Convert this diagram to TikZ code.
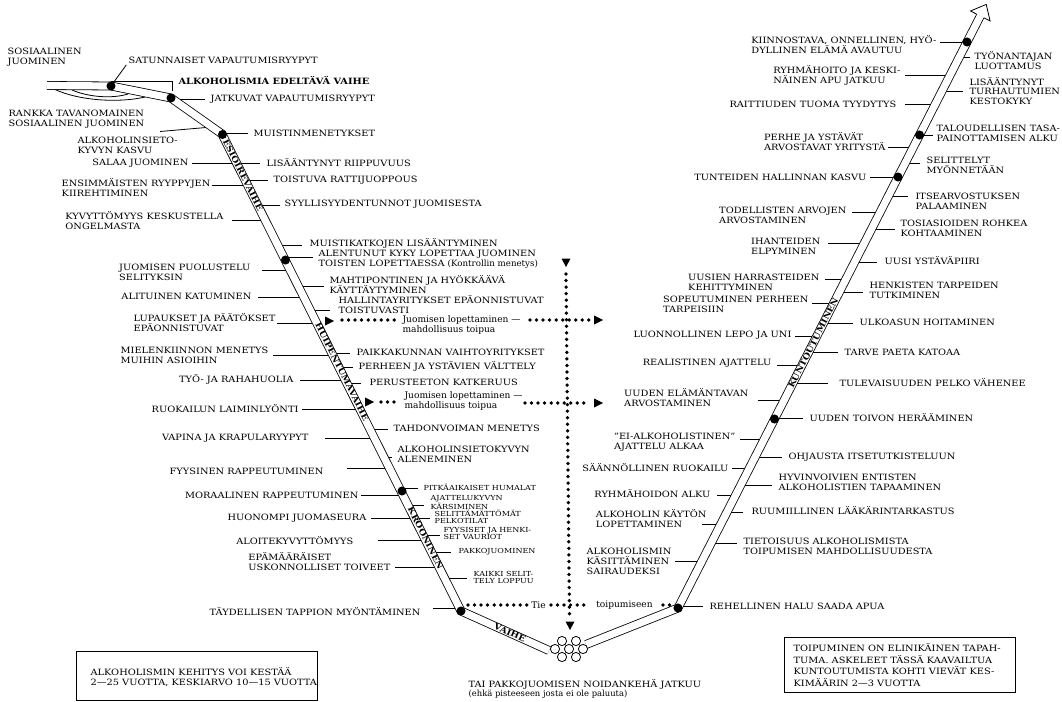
\documentclass[tikz,border=0pt]{standalone}
\usepackage{fontspec}
\setmainfont{DejaVu Serif}[FakeStretch=1.13]
\newfontfamily\smallfam{DejaVu Serif}[FakeStretch=1.16]
\newfontfamily\lowfam{DejaVu Serif}
\tikzset{
  lab/.style={font=\fontsize{6.5}{7.4}\selectfont, inner sep=1pt, align=left},
  slab/.style={font=\smallfam\fontsize{5.2}{5.5}\selectfont, inner sep=1pt, align=left},
  boldlab/.style={font=\bfseries\fontsize{6.5}{7.4}\selectfont, inner sep=1pt},
  lowtxt/.style={font=\lowfam\fontsize{6.8}{7.6}\selectfont, inner sep=1pt, align=left},
  conn/.style={line width=0.6pt},
  tube/.style={line width=0.6pt, double=white, double distance=5.4pt},
  blob/.style={circle, fill, inner sep=0pt, minimum size=6.8pt},
  dotln/.style={line width=2.8pt, line cap=round, dash pattern=on 0pt off 4.9pt},
  tubetxt/.style={font=\bfseries\fontsize{6.1}{6}\selectfont, inner sep=0pt},
}
\newcommand\tubeA[1]{222+(#1-134)*0.504}
\newcommand\tubeB[1]{678+(608-#1)*0.5106}
% label left of a tube: style, tube, name, x east, y centre, y line, gap, text
\newcommand\LabL[8]{%
  \node[#1, anchor=east] (#3) at (#4,#5) {#8};
  \pgfmathsetmacro\tx{\csname tube#2\endcsname{#6}}
  \coordinate (#3t) at (\tx,#6);
  \draw[conn] ([xshift=#7*0.75pt]#3.east |- #3t) -- (#3t);
}
% label right of a tube
\newcommand\LabR[8]{%
  \node[#1, anchor=west] (#3) at (#4,#5) {#8};
  \pgfmathsetmacro\tx{\csname tube#2\endcsname{#6}}
  \coordinate (#3t) at (\tx,#6);
  \draw[conn] (#3t) -- ([xshift=-#7*0.75pt]#3.west |- #3t);
}
\begin{document}
\begin{tikzpicture}[x=0.75pt,y=-0.75pt]
\useasboundingbox (0,0) rectangle (1062,702);

% dot positions
\coordinate (d1) at (111,86);
\coordinate (d2) at (171,98);
\coordinate (d3) at (222.5,134.5);
\coordinate (d4) at (285.5,260);
\coordinate (d5) at (402,491);
\coordinate (d6) at (461,611);
\coordinate (e1) at (678,608);
\coordinate (e2) at (774.5,419);
\coordinate (e3) at (898,177);
\coordinate (e4) at (919.5,135);
\coordinate (e5) at (967,42);

% top left labels
\node[lab, anchor=west] (sos) at (6,57) {SOSIAALINEN\\JUOMINEN};
\node[lab, anchor=west] (satun) at (127,60) {SATUNNAISET VAPAUTUMISRYYPYT};
\node[boldlab, anchor=west] (edel) at (177,80) {ALKOHOLISMIA EDELTÄVÄ VAIHE};
\node[lab, anchor=west] (jatk) at (209,99) {JATKUVAT VAPAUTUMISRYYPYT};
\node[lab, anchor=west] (rankka) at (7,119.5) {RANKKA TAVANOMAINEN\\SOSIAALINEN JUOMINEN};
\node[lab, anchor=west] (alksi) at (76,145) {ALKOHOLINSIETO-\\KYVYN KASVU};
\draw[conn] ([xshift=-0.5pt]satun.south west) -- (d1);
\coordinate (jatkt) at (172,99);
\draw[conn] (jatkt) -- ([xshift=-3pt]jatk.west);
\coordinate (alksiA) at (160,131.5);
\coordinate (alksiB) at (212,127);
\draw[conn] (alksiA) -- (alksiB);
\draw[conn] (111,81.5) -- (172,81.5) -- (172,91);
\draw[conn] (55,89.5) .. controls (80,101) and (120,103) .. (145,97);
\draw[conn] (72,90) .. controls (88,97) and (112,99) .. (128,94);

% left tube, labels on the left
\LabL{lab}{A}{salaa}{190}{163}{163}{1.5}{SALAA JUOMINEN}
\LabL{lab}{A}{ensim}{212}{188}{185}{0}{ENSIMMÄISTEN RYYPPYJEN\\KIIREHTIMINEN}
\LabL{lab}{A}{kyvyt}{225}{220.5}{220}{7}{KYVYTTÖMYYS KESKUSTELLA\\ONGELMASTA}
\LabL{lab}{A}{puol}{252}{272}{270}{10}{JUOMISEN PUOLUSTELU\\SELITYKSIN}
\LabL{lab}{A}{alit}{253}{296}{297}{5}{ALITUINEN KATUMINEN}
\LabL{lab}{A}{lupa}{277}{323}{323}{0}{LUPAUKSET JA PÄÄTÖKSET\\EPÄONNISTUVAT}
\LabL{lab}{A}{miel}{270}{355}{355}{3}{MIELENKIINNON MENETYS\\MUIHIN ASIOIHIN}
\LabL{lab}{A}{tyo}{295}{379}{380}{5}{TYÖ- JA RAHAHUOLIA}
\LabL{lab}{A}{ruok}{300}{409}{409}{2}{RUOKAILUN LAIMINLYÖNTI}
\LabL{lab}{A}{vapina}{310}{438}{438}{15}{VAPINA JA KRAPULARYYPYT}
\LabL{lab}{A}{fyys}{325}{471}{468}{22}{FYYSINEN RAPPEUTUMINEN}
\LabL{lab}{A}{moraal}{360}{495}{495}{1}{MORAALINEN RAPPEUTUMINEN}
\LabL{lab}{A}{huon}{368}{518}{518}{3}{HUONOMPI JUOMASEURA}
\LabL{lab}{A}{aloit}{355}{541}{540}{23}{ALOITEKYVYTTÖMYYS}
\LabL{lab}{A}{epam}{392}{562}{567}{3}{EPÄMÄÄRÄISET\\USKONNOLLISET TOIVEET}
\LabL{lab}{A}{tayd}{422}{612}{608}{11}{TÄYDELLISEN TAPPION MYÖNTÄMINEN}

% left tube, labels on the right
\LabR{lab}{A}{muist}{252}{133}{133}{4}{MUISTINMENETYKSET}
\LabR{lab}{A}{lisaa}{265}{163}{163}{5}{LISÄÄNTYNYT RIIPPUVUUS}
\LabR{lab}{A}{toist}{272}{180}{180}{4}{TOISTUVA RATTIJUOPPOUS}
\LabR{lab}{A}{syyll}{283}{204}{205}{3}{SYYLLISYYDENTUNNOT JUOMISESTA}
\LabR{lab}{A}{muistk}{308}{243.5}{245}{6}{MUISTIKATKOJEN LISÄÄNTYMINEN}
\LabR{lab}{A}{alent}{317}{259.5}{257}{4}{ALENTUNUT KYKY LOPETTAA JUOMINEN\\TOISTEN LOPETTAESSA {\lowfam (Kontrollin menetys)}}
\LabR{lab}{A}{mahti}{328}{285}{286}{4}{MAHTIPONTINEN JA HYÖKKÄÄVÄ\\KÄYTTÄYTYMINEN}
\LabR{lab}{A}{hallin}{337}{305}{310}{7}{HALLINTAYRITYKSET EPÄONNISTUVAT\\TOISTUVASTI}
\LabR{lab}{A}{paikk}{355}{352}{353}{5}{PAIKKAKUNNAN VAIHTOYRITYKSET}
\LabR{lab}{A}{perhv}{357}{366}{367}{4}{PERHEEN JA YSTÄVIEN VÄLTTELY}
\LabR{lab}{A}{perus}{368}{382}{383}{7}{PERUSTEETON KATKERUUS}
\LabR{lab}{A}{tahd}{392}{428}{429}{4}{TAHDONVOIMAN MENETYS}
\LabR{lab}{A}{alkosi}{396}{454}{457}{4}{ALKOHOLINSIETOKYVYN\\ALENEMINEN}
\LabR{slab}{A}{pitk}{422}{487}{488}{4}{PITKÄAIKAISET HUMALAT}
\LabR{slab}{A}{ajat}{429}{502.5}{505}{5}{AJATTELUKYVYN\\KÄRSIMINEN}
\LabR{slab}{A}{selt}{433}{517}{518}{3}{SELITTÄMÄTTÖMÄT\\PELKOTILAT}
\LabR{slab}{A}{fyyh}{442}{533.5}{535}{2}{FYYSISET JA HENKI-\\SET VAURIOT}
\LabR{slab}{A}{pakko}{457}{552}{552}{6}{PAKKOJUOMINEN}
\LabR{slab}{A}{kaikki}{472}{577.5}{578}{5}{KAIKKI SELIT-\\TELY LOPPUU}

% right tube, labels on the left
\LabL{lab}{B}{kiinn}{938}{45}{42}{2}{KIINNOSTAVA, ONNELLINEN, HYÖ-\\DYLLINEN ELÄMÄ AVAUTUU}
\LabL{lab}{B}{ryhmh}{902}{75}{75}{3}{RYHMÄHOITO JA KESKI-\\NÄINEN APU JATKUU}
\LabL{lab}{B}{raitt}{898}{104}{104}{7}{RAITTIUDEN TUOMA TYYDYTYS}
\LabL{lab}{B}{perhe}{887}{142}{147}{1}{PERHE JA YSTÄVÄT\\ARVOSTAVAT YRITYSTÄ}
\LabL{lab}{B}{tunt}{868}{177}{177}{2}{TUNTEIDEN HALLINNAN KASVU}
\LabL{lab}{B}{todel}{848}{215}{212}{4}{TODELLISTEN ARVOJEN\\ARVOSTAMINEN}
\LabL{lab}{B}{ihant}{822}{246.5}{243}{6}{IHANTEIDEN\\ELPYMINEN}
\LabL{lab}{B}{uusih}{821}{282}{279}{4}{UUSIEN HARRASTEIDEN\\KEHITTYMINEN}
\LabL{lab}{B}{sopeu}{810}{304.5}{303}{2}{SOPEUTUMINEN PERHEEN\\TARPEISIIN}
\LabL{lab}{B}{luonn}{793}{335}{336}{2}{LUONNOLLINEN LEPO JA UNI}
\LabL{lab}{B}{realis}{773}{363}{365}{4}{REALISTINEN AJATTELU}
\LabL{lab}{B}{uudenel}{750}{397.5}{400}{8}{UUDEN ELÄMÄNTAVAN\\ARVOSTAMINEN}
\LabL{lab}{B}{eialk}{737}{442.5}{439}{3}{"EI-ALKOHOLISTINEN"\\AJATTELU ALKAA}
\LabL{lab}{B}{saann}{730}{468}{468}{2}{SÄÄNNÖLLINEN RUOKAILU}
\LabL{lab}{B}{ryhma}{712}{494}{495}{5}{RYHMÄHOIDON ALKU}
\LabL{lab}{B}{alklop}{708}{519}{524}{-6}{ALKOHOLIN KÄYTÖN\\LOPETTAMINEN}
\LabL{lab}{B}{alkkas}{673}{561}{561}{2}{ALKOHOLISMIN\\KÄSITTÄMINEN\\SAIRAUDEKSI}

% right tube, labels on the right
\LabR{lab}{B}{tyon}{973}{60.5}{57}{3}{TYÖNANTAJAN\\LUOTTAMUS}
\LabR{lab}{B}{lisaat}{968}{91}{91}{5}{LISÄÄNTYNYT\\TURHAUTUMIEN\\KESTOKYKY}
\LabR{lab}{B}{talou}{935}{133}{135}{2}{TALOUDELLISEN TASA-\\PAINOTTAMISEN ALKU}
\LabR{lab}{B}{selitm}{925}{165}{163}{5}{SELITTELYT\\MYÖNNETÄÄN}
\LabR{lab}{B}{itsea}{914}{201}{196}{6}{ITSEARVOSTUKSEN\\PALAAMINEN}
\LabR{lab}{B}{tosia}{899}{228.5}{229}{4}{TOSIASIOIDEN ROHKEA\\KOHTAAMINEN}
\LabR{lab}{B}{uusiy}{883}{261}{262}{6}{UUSI YSTÄVÄPIIRI}
\LabR{lab}{B}{henk}{868}{290.5}{292}{5}{HENKISTEN TARPEIDEN\\TUTKIMINEN}
\LabR{lab}{B}{ulko}{858}{322}{323}{5}{ULKOASUN HOITAMINEN}
\LabR{lab}{B}{tarve}{843}{352}{352}{5}{TARVE PAETA KATOAA}
\LabR{lab}{B}{tulev}{838}{383}{383}{10}{TULEVAISUUDEN PELKO VÄHENEE}
\LabR{lab}{B}{uudent}{808}{418}{418}{5}{UUDEN TOIVON HERÄÄMINEN}
\LabR{lab}{B}{ohjaus}{787}{457}{457}{5}{OHJAUSTA ITSETUTKISTELUUN}
\LabR{lab}{B}{hyvinv}{777}{482.5}{485}{5}{HYVINVOIVIEN ENTISTEN\\ALKOHOLISTIEN TAPAAMINEN}
\LabR{lab}{B}{ruum}{750}{511}{512}{7}{RUUMIILLINEN LÄÄKÄRINTARKASTUS}
\LabR{lab}{B}{tietois}{742}{546.5}{543}{5}{TIETOISUUS ALKOHOLISMISTA\\TOIPUMISEN MAHDOLLISUUDESTA}
\LabR{lab}{B}{rehel}{708}{606}{606}{5}{REHELLINEN HALU SAADA APUA}

% the two tubes
\draw[tube] (47,85.5) -- (d1) -- (d2) -- (222,134) -- (d6) -- (549,650.5);
\draw[tube] (586,644.5) -- (e1) -- (980.3,16);
\filldraw[fill=white, line width=0.6pt] (976.7,14.2) -- (970.5,11.0) -- (986.2,4.4) -- (990.1,21.0) -- (983.9,17.8);

% dots on the tubes
\foreach \d in {d1,d2,d3,d4,d5,d6,e1,e2,e3,e4,e5}
  \node[blob] (D\d) at (\d) {};

% names of the phases
\node[tubetxt, rotate=-63.25] (esio) at (243,175) {ESIOIREVAIHE};
\node[tubetxt, rotate=-63.25] (huip) at (342,372) {HUIPENTUMAVAIHE};
\node[tubetxt, rotate=-63.25] (kroon) at (425.6,538) {KROONINEN};
\node[tubetxt, rotate=-23.9] (vaihe) at (510,632.7) {VAIHE};
\node[tubetxt, rotate=62.95] (kunt) at (813.3,343) {KUNTOUTUMINEN};

% circle of compulsive drinking
\foreach \p in {(562,641),(576,641),(555,649),(569,649),(583,649),(562,657),(576,657)}
  \draw[conn] \p circle[radius=4.6];

% dotted routes
\node[lowtxt, anchor=west] (j1) at (401,325) {Juomisen lopettaminen —\\mahdollisuus toipua};
\fill (334,321) -- ++(-9,-4.5) -- ++(0,9) -- cycle;
\draw[dotln] (342,320) -- (398,320);
\draw[dotln] (530,320) -- (589,320);
\fill (603,320) -- ++(-9,-4.5) -- ++(0,9) -- cycle;

\node[lowtxt, anchor=west] (j2) at (403,401) {Juomisen lopettaminen —\\mahdollisuus toipua};
\fill (374,402) -- ++(-9,-4.5) -- ++(0,9) -- cycle;
\draw[dotln] (381,402) -- (396,402);
\draw[dotln] (525,403) -- (589,403);
\fill (603,403) -- ++(-9,-4.5) -- ++(0,9) -- cycle;

\fill (566,267) -- ++(-4.5,-8.5) -- ++(9,0) -- cycle;
\draw[dotln] (566,274) -- (569.5,617);
\fill (570,630) -- ++(-4.5,-8.5) -- ++(9,0) -- cycle;

\node[lowtxt] (tie) at (538.5,605) {Tie};
\node[lowtxt] (toip) at (624.5,605) {toipumiseen};
\draw[dotln] (468,605) -- (527,605);
\draw[dotln] (551,605) -- (585,605);
\draw[dotln] (663,605) -- (672,605);

% bottom texts
\node[lab, anchor=west] (tai) at (467,684) {TAI PAKKOJUOMISEN NOIDANKEHÄ JATKUU};
\node[lowtxt, font=\lowfam\fontsize{6.3}{7}\selectfont, anchor=west] (ehka) at (467,694) {(ehkä pisteeseen josta ei ole paluuta)};

% boxes
\draw[conn] (76,651) rectangle (317,700);
\node[lab, font=\fontsize{6.5}{7}\selectfont, anchor=west] (boxL) at (89,677) {ALKOHOLISMIN KEHITYS VOI KESTÄÄ\\2—25 VUOTTA, KESKIARVO 10—15 VUOTTA};
\draw[conn] (784,637) rectangle (1015,692);
\node[lab, font=\fontsize{6.5}{8.8}\selectfont, anchor=west] (boxR) at (792,665) {TOIPUMINEN ON ELINIKÄINEN TAPAH-\\TUMA. ASKELEET TÄSSÄ KAAVAILTUA\\KUNTOUTUMISTA KOHTI VIEVÄT KES-\\KIMÄÄRIN 2—3 VUOTTA};
\end{tikzpicture}
\end{document}
